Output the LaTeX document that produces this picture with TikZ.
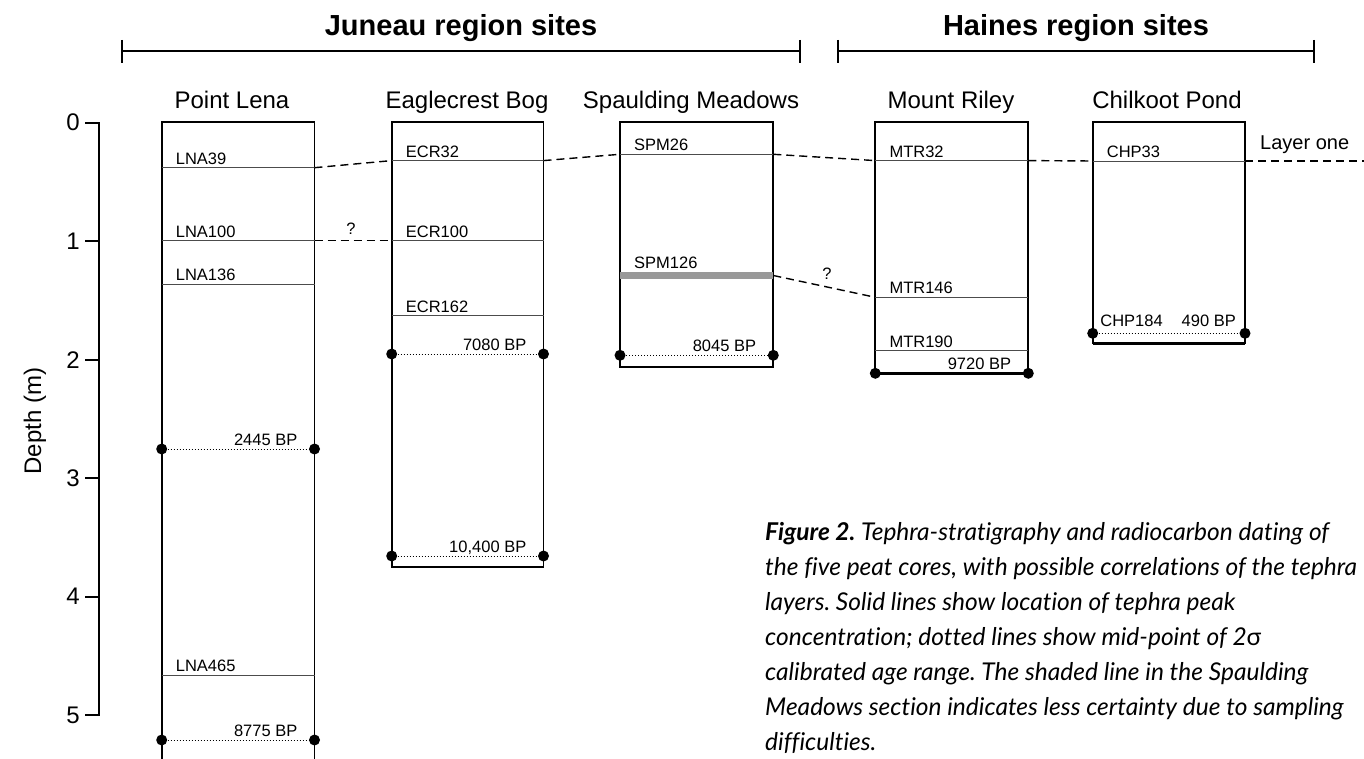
\documentclass[tikz,border=0pt]{standalone}
\usepackage{fontspec}
\setmainfont{Liberation Sans}
\newfontfamily\capfont[Ligatures=NoCommon]{Lato}
\tikzset{
  corebox/.style={draw, line width=1.8pt},
  coreend/.style={line width=2.8pt},
  tephra/.style={draw=black!70, line width=0.9pt},
  shaded/.style={draw=black!40, line width=7.5pt},
  datum/.style={draw, line width=1pt, dash pattern=on 1pt off 2pt},
  corr/.style={draw, line width=1.4pt, dash pattern=on 8pt off 5pt},
  bar/.style={draw, line width=2.2pt},
  axisline/.style={draw, line width=1.8pt},
  tlab/.style={anchor=base west, inner sep=0pt, xshift=14pt, yshift=3.5pt, font=\fontsize{16.5}{18}\selectfont},
  dlab/.style={anchor=base east, inner sep=0pt, xshift=-17pt, yshift=4pt, font=\fontsize{16.5}{18}\selectfont},
  sitetitle/.style={anchor=base, inner sep=0pt, font=\fontsize{24}{28}\selectfont},
  regiontitle/.style={anchor=base, inner sep=0pt, font=\bfseries\fontsize{29}{32}\selectfont},
  axlab/.style={inner sep=0pt, font=\fontsize{24}{28}\selectfont},
  qmark/.style={anchor=base, inner sep=0pt, font=\fontsize{16.5}{18}\selectfont},
}
\newcommand\tephraline[4]{%
  \coordinate (#1l) at (#2,#4); \coordinate (#1r) at (#3,#4);
  \draw[tephra] (#1l) -- (#1r);
  \node[tlab] (#1t) at (#1l) {#1};}
\newcommand\datingline[5]{%
  \coordinate (#1l) at (#2,#4); \coordinate (#1r) at (#3,#4);
  \draw[datum] (#1l) -- (#1r);
  \fill (#1l) circle[radius=5.5pt]; \fill (#1r) circle[radius=5.5pt];
  \node[dlab] (#1t) at (#1r) {#5};}
\begin{document}
\frenchspacing
\begin{tikzpicture}[x=1pt,y=-1pt]
\useasboundingbox (0,0) rectangle (1364,759);
\clip (0,0) rectangle (1364,759);

% region headers
\node[regiontitle] (jt) at (461,36) {Juneau region sites};
\coordinate (jl) at (122,50.7); \coordinate (jr) at (800,50.7);
\draw[bar] (jl) -- (jr);
\draw[bar] (122,40) -- (122,62.7);
\draw[bar] (800,40) -- (800,62.7);
\node[regiontitle] (ht) at (1076,36) {Haines region sites};
\coordinate (hl) at (838,50.7); \coordinate (hr) at (1314,50.7);
\draw[bar] (hl) -- (hr);
\draw[bar] (838,40) -- (838,62.7);
\draw[bar] (1314,40) -- (1314,62.7);

% depth axis
\draw[axisline] (85,122.7) -- (99,122.7) -- (99,715) -- (85,715);
\foreach \d in {1,2,3,4} \draw[axisline] (85,122.7+118.5*\d) -- (99,122.7+118.5*\d);
\foreach \d in {0,...,5} \node[axlab] (ax\d) at (73,122.7+118.5*\d) {\d};
\node[axlab, rotate=90] (depth) at (35,421) {Depth (m)};

% site titles
\node[sitetitle] (tLNA) at (232,108.3) {Point Lena};
\node[sitetitle] (tECR) at (467,108.3) {Eaglecrest Bog};
\node[sitetitle] (tSPM) at (691,108.3) {Spaulding Meadows};
\node[sitetitle] (tMTR) at (951,108.3) {Mount Riley};
\node[sitetitle] (tCHP) at (1167,108.3) {Chilkoot Pond};

% Point Lena
\draw[corebox] (161.7,121.7) rectangle (314.5,759.5);
\tephraline{LNA39}{161.7}{314.5}{167.7}
\tephraline{LNA100}{161.7}{314.5}{240.7}
\tephraline{LNA136}{161.7}{314.5}{284.3}
\tephraline{LNA465}{161.7}{314.5}{675}
\datingline{L1}{161.7}{314.5}{449}{2445 BP}
\datingline{L2}{161.7}{314.5}{740}{8775 BP}

% Eaglecrest Bog
\draw[corebox] (391.7,121.7) rectangle (543.5,566.7);
\tephraline{ECR32}{391.7}{543.5}{160.6}
\tephraline{ECR100}{391.7}{543.5}{240.7}
\tephraline{ECR162}{391.7}{543.5}{315.7}
\datingline{E1}{391.7}{543.5}{354}{7080 BP}
\datingline{E2}{391.7}{543.5}{556}{10,400 BP}

% Spaulding Meadows
\draw[corebox] (620,121.7) rectangle (773.3,366.7);
\tephraline{SPM26}{620}{773.3}{154.3}
\coordinate (SPM126l) at (620,275.5); \coordinate (SPM126r) at (773.3,275.5);
\draw[shaded] (SPM126l) -- (SPM126r);
\node[tlab, yshift=3.5pt] (SPM126t) at (SPM126l) {SPM126};
\datingline{S1}{620}{773.3}{355.3}{8045 BP}

% Mount Riley
\draw[corebox] (875.3,121.7) rectangle (1028.3,373.3);
\draw[coreend] (875.3,373.3) -- (1028.3,373.3);
\tephraline{MTR32}{875.3}{1028.3}{160.6}
\tephraline{MTR146}{875.3}{1028.3}{297.3}
\tephraline{MTR190}{875.3}{1028.3}{350.7}
\datingline{M1}{875.3}{1028.3}{373.3}{9720 BP}

% Chilkoot Pond
\draw[corebox] (1092.7,121.7) rectangle (1245,343.3);
\draw[coreend] (1092.7,343.3) -- (1245,343.3);
\tephraline{CHP33}{1092.7}{1245}{161}
\coordinate (C1l) at (1092.7,333.3); \coordinate (C1r) at (1245,333.3);
\draw[datum] (C1l) -- (C1r);
\fill (C1l) circle[radius=5.5pt]; \fill (C1r) circle[radius=5.5pt];
\node[tlab, xshift=-6.5pt, yshift=3.5pt] (CHP184t) at (C1l) {CHP184};
\node[dlab, xshift=8pt, yshift=3pt] (C1t) at (C1r) {490 BP};

% correlations
\coordinate (lend) at (1366,161);
\draw[corr] (LNA39r) -- (ECR32l);
\draw[corr] (ECR32r) -- (SPM26l);
\draw[corr] (SPM26r) -- (MTR32l);
\draw[corr] (MTR32r) -- (CHP33l);
\draw[corr] (CHP33r) -- (lend);
\node[anchor=base west, inner sep=0pt, font=\fontsize{20}{24}\selectfont] (layer) at (1260,150) {Layer one};
\draw[corr] (LNA100r) -- (ECR100l);
\node[qmark] (q1) at (351,235) {?};
\draw[corr] (SPM126r) -- (MTR146l);
\node[qmark] (q2) at (827,279) {?};

% caption
\node[anchor=north west, inner sep=0pt, align=left,
      font=\capfont\itshape\fontsize{24.5}{35}\selectfont] (cap) at (765,522)
{\textbf{Figure 2.} Tephra-stratigraphy and radiocarbon dating of\\
the five peat cores, with possible correlations of the tephra\\
layers. Solid lines show location of tephra peak\\
concentration; dotted lines show mid-point of 2\upshape σ\\
calibrated age range. The shaded line in the Spaulding\\
Meadows section indicates less certainty due to sampling\\
difficulties.};
\end{tikzpicture}
\end{document}
